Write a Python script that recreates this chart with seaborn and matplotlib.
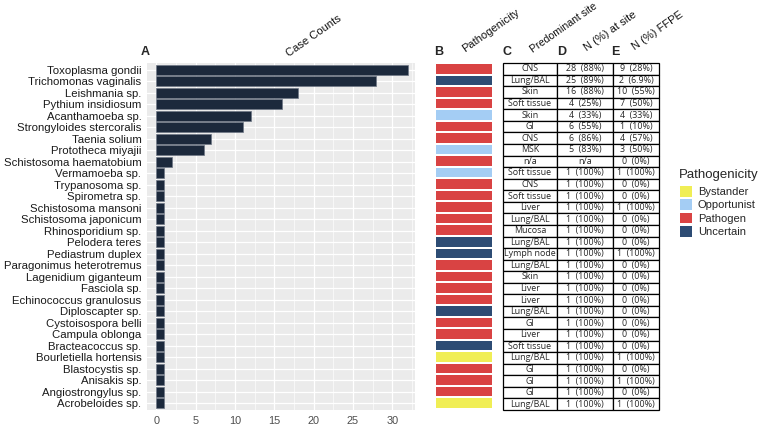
import numpy as np
import pandas as pd
import matplotlib
matplotlib.use('Agg')
import matplotlib.pyplot as plt
from matplotlib.colors import ListedColormap
from matplotlib.patches import Patch
import seaborn as sns

# data
species = ['Toxoplasma gondii', 'Trichomonas vaginalis', 'Leishmania sp.', 'Pythium insidiosum',
           'Acanthamoeba sp.', 'Strongyloides stercoralis', 'Taenia solium', 'Prototheca miyajii',
           'Schistosoma haematobium', 'Vermamoeba sp.', 'Trypanosoma sp.', 'Spirometra sp.',
           'Schistosoma mansoni', 'Schistosoma japonicum', 'Rhinosporidium sp.', 'Pelodera teres',
           'Pediastrum duplex', 'Paragonimus heterotremus', 'Lagenidium giganteum', 'Fasciola sp.',
           'Echinococcus granulosus', 'Diploscapter sp.', 'Cystoisospora belli', 'Campula oblonga',
           'Bracteacoccus sp.', 'Bourletiella hortensis', 'Blastocystis sp.', 'Anisakis sp.',
           'Angiostrongylus sp.', 'Acrobeloides sp.']
case_counts = [32, 28, 18, 16, 12, 11, 7, 6, 2, 1, 1, 1, 1, 1, 1,
               1, 1, 1, 1, 1, 1, 1, 1, 1, 1, 1, 1, 1, 1, 1]
pathogenicity = ['Pathogen', 'Uncertain', 'Pathogen', 'Pathogen', 'Opportunist', 'Pathogen',
                 'Pathogen', 'Opportunist', 'Pathogen', 'Opportunist', 'Pathogen', 'Pathogen',
                 'Pathogen', 'Pathogen', 'Pathogen', 'Uncertain', 'Uncertain', 'Pathogen',
                 'Pathogen', 'Pathogen', 'Pathogen', 'Uncertain', 'Pathogen', 'Pathogen',
                 'Uncertain', 'Bystander', 'Pathogen', 'Pathogen', 'Pathogen', 'Bystander']
site = ['CNS', 'Lung/BAL', 'Skin', 'Soft tissue', 'Skin', 'GI', 'CNS', 'MSK', 'n/a',
        'Soft tissue', 'CNS', 'Soft tissue', 'Liver', 'Lung/BAL', 'Mucosa', 'Lung/BAL',
        'Lymph node', 'Lung/BAL', 'Skin', 'Liver', 'Liver', 'Lung/BAL', 'GI', 'Liver',
        'Soft tissue', 'Lung/BAL', 'GI', 'GI', 'GI', 'Lung/BAL']
n_site = ['28  (88%)', '25  (89%)', '16  (88%)', '4  (25%)', '4  (33%)', '6  (55%)',
          '6  (86%)', '5  (83%)', 'n/a'] + ['1  (100%)'] * 21
n_ffpe = ['9  (28%)', '2  (6.9%)', '10  (55%)', '7  (50%)', '4  (33%)', '1  (10%)',
          '4  (57%)', '3  (50%)', '0  (0%)', '1  (100%)', '0  (0%)', '0  (0%)',
          '1  (100%)', '0  (0%)', '0  (0%)', '0  (0%)', '1  (100%)', '0  (0%)',
          '0  (0%)', '0  (0%)', '0  (0%)', '0  (0%)', '0  (0%)', '0  (0%)', '0  (0%)',
          '1  (100%)', '0  (0%)', '1  (100%)', '0  (0%)', '1  (100%)']

path_levels = ['Bystander', 'Opportunist', 'Pathogen', 'Uncertain']
path_colors = ['#F0EE55', '#A4CDF4', '#D94343', '#2D4C74']
bar_color = '#1C293C'

W, H = 763, 425
def box(x, y, w, h):
    return [x / W, 1 - (y + h) / H, w / W, h / H]

sns.set_theme(style='white')
plt.rcParams['font.family'] = ['Liberation Sans', 'DejaVu Sans']

fig = plt.figure(figsize=(7.63, 4.25), dpi=100)

# panel A - case counts
df = pd.DataFrame({'Species': species, 'Count': case_counts})
axA = fig.add_axes(box(147, 63, 268, 347))
axA.set_facecolor('#EBEBEB')
axA.set_axisbelow(True)
sns.barplot(data=df, x='Count', y='Species', orient='h', color=bar_color,
            edgecolor='#6E7785', linewidth=0.5, width=0.88, ax=axA, saturation=1)
axA.set_xlim(-1.2, 32.9)
axA.set_ylim(len(species) - 0.4, -0.6)
axA.set_xticks([0, 5, 10, 15, 20, 25, 30])
axA.set_xticks(np.arange(2.5, 33, 5), minor=True)
axA.grid(True, which='major', color='white', linewidth=0.9)
axA.grid(True, which='minor', axis='x', color='white', linewidth=0.45)
for s in axA.spines.values():
    s.set_visible(False)
axA.set_xlabel('')
axA.set_ylabel('')
axA.tick_params(axis='y', labelsize=8.2, colors='#333333', length=2, pad=2, labelcolor='#1a1a1a')
axA.tick_params(axis='x', labelsize=7.8, colors='#4D4D4D', length=2, pad=2)

# panel B - pathogenicity tiles
codes = np.array([path_levels.index(p) for p in pathogenicity]).reshape(-1, 1)
axB = fig.add_axes(box(435, 63, 58, 346))
sns.heatmap(codes, cmap=ListedColormap(path_colors), vmin=-0.5, vmax=3.5, cbar=False,
            linewidths=1.3, linecolor='white', xticklabels=False, yticklabels=False, ax=axB)

# panels C, D, E - table
axT = fig.add_axes(box(503, 63, 156, 347))
axT.axis('off')
cells = [[a, b, c] for a, b, c in zip(site, n_site, n_ffpe)]
tab = axT.table(cellText=cells, colWidths=[54, 56, 46], bbox=[0, 0, 1, 1], cellLoc='center')
tab.auto_set_font_size(False)
tab.set_fontsize(6.4)
for (r, c), cell in tab.get_celld().items():
    cell.set_edgecolor('black')
    cell.set_linewidth(0.9)
    cell.get_text().set_fontfamily(['Open Sans', 'DejaVu Sans'])

# headers
hdr = dict(rotation=35, rotation_mode='anchor', ha='left', va='baseline', fontsize=8, color='#111111')
def fx(x): return x / W
def fy(y): return 1 - y / H
fig.text(fx(289), fy(57), 'Case Counts', **hdr)
fig.text(fx(465), fy(52), 'Pathogenicity', **hdr)
fig.text(fx(533), fy(53), 'Predominant site', **dict(hdr, fontsize=7.6))
fig.text(fx(587), fy(51), 'N (%) at site', **hdr)
fig.text(fx(635), fy(50), 'N (%) FFPE', **hdr)
for lab, x in [('A', 145), ('B', 439), ('C', 507), ('D', 562), ('E', 615)]:
    fig.text(fx(x), fy(52), lab, fontsize=9, fontweight='bold', ha='center', va='center')

# legend
fig.text(fx(679), fy(175), 'Pathogenicity', fontsize=9.5, ha='left', va='center')
handles = [Patch(facecolor=c, edgecolor='none', label=l) for l, c in zip(path_levels, path_colors)]
leg = fig.legend(handles=handles, loc='upper left',
                 bbox_to_anchor=(fx(680), fy(186)), frameon=False, fontsize=8,
                 handlelength=1.1, handleheight=1.1,
                 handletextpad=0.5, labelspacing=0.2, borderpad=0, borderaxespad=0)

fig.savefig('out.png', dpi=100)
